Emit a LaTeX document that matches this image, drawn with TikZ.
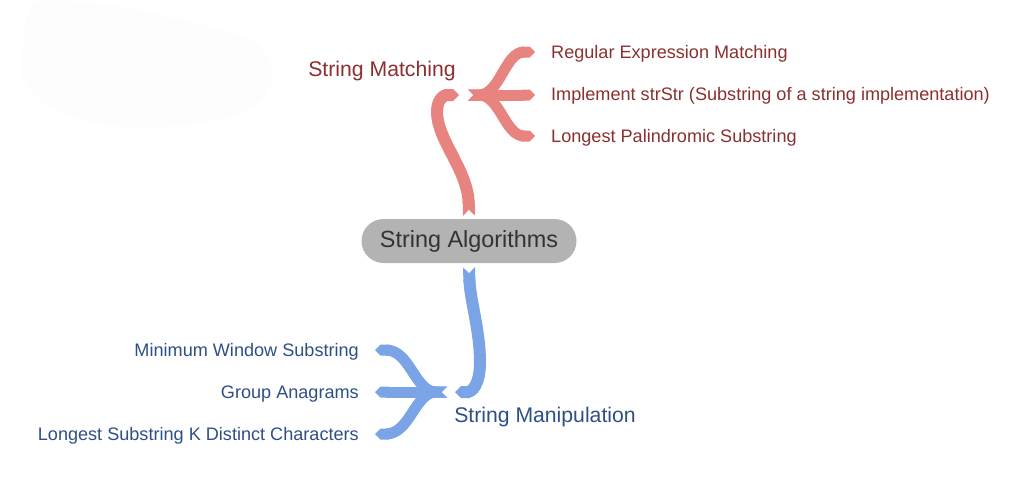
\documentclass[tikz,border=0pt]{standalone}
\usepackage{fontspec}
\setmainfont{Liberation Sans}
\usepackage{xcolor}
\usepackage{tikz}
\usetikzlibrary{positioning,calc,arrows.meta}

\definecolor{matchline}{HTML}{E8847F}
\definecolor{matchtext}{HTML}{8B2F2F}
\definecolor{maniline}{HTML}{7BA4E6}
\definecolor{manitext}{HTML}{2E4F86}
\definecolor{rootfill}{HTML}{B3B3B3}
\definecolor{roottext}{HTML}{333333}
\definecolor{blobfill}{HTML}{FDFDFD}

\tikzset{
    root/.style={fill=rootfill, text=roottext, rounded corners=22pt, minimum width=215pt, minimum height=44pt, font=\fontsize{23.4}{28}\selectfont},
    topic/.style={inner sep=0pt, font=\fontsize{21.2}{26}\selectfont},
    leaf/.style={inner sep=0pt, font=\fontsize{18.1}{22}\selectfont},
    trunk/.style={line width=12pt, {Triangle Cap[reversed]}-{Triangle Cap}},
    twig/.style={line width=11pt, {Triangle Cap[reversed]}-{Triangle Cap}},
}

\begin{document}
\begin{tikzpicture}[x=1pt, y=-1pt]
    \useasboundingbox (0,0) rectangle (1028,491);

    % faint blob top left
    \fill[blobfill] (35,2) .. controls (100,-5) and (200,25) .. (240,35)
        .. controls (275,45) and (285,85) .. (255,105)
        .. controls (220,128) and (130,132) .. (90,122)
        .. controls (40,110) and (15,85) .. (22,55)
        .. controls (25,30) and (25,5) .. (35,2) -- cycle;

    % central node
    \node[root] (alg) at (469,241) {String Algorithms};

    % main topics
    \node[topic, text=matchtext] (match) at (382,71) {String Matching};
    \node[topic, text=manitext] (manip) at (545,417) {String Manipulation};

    % leaves
    \node[leaf, text=matchtext, anchor=west] (regex) at (551,54) {Regular Expression Matching};
    \node[leaf, text=matchtext, anchor=west] (strstr) at (551,96) {Implement strStr (Substring of a string implementation)};
    \node[leaf, text=matchtext, anchor=west] (palin) at (551,138) {Longest Palindromic Substring};
    \node[leaf, text=manitext, anchor=east] (minwin) at (359,352) {Minimum Window Substring};
    \node[leaf, text=manitext, anchor=east] (anagram) at (359,394) {Group Anagrams};
    \node[leaf, text=manitext, anchor=east] (kdist) at (359,436) {Longest Substring K Distinct Characters};

    % junctions
    \coordinate (mj) at (459,95);
    \coordinate (mb) at (468,95);
    \coordinate (nj) at (455,392);
    \coordinate (nb) at (447,392);

    % matching branch
    \draw[trunk, matchline] ($(alg.north)+(0,-3)$) .. controls (468,170) and (437,140) .. (437,112)
        .. controls (437,98) and (445,95) .. (mj);
    \draw[twig, matchline] (mb) .. controls (500,95) and (505,52) .. (535,52);
    \draw[twig, matchline] (mb) -- (535,95);
    \draw[twig, matchline] (mb) .. controls (500,95) and (505,136) .. (535,136);

    % manipulation branch
    \draw[trunk, maniline] ($(alg.south)+(0,4)$) .. controls (470,300) and (480,330) .. (480,362)
        .. controls (480,385) and (472,392) .. (nj);
    \draw[twig, maniline] (nb) .. controls (415,392) and (410,350) .. (375,350);
    \draw[twig, maniline] (nb) -- (375,392);
    \draw[twig, maniline] (nb) .. controls (415,392) and (410,434) .. (375,434);
\end{tikzpicture}
\end{document}
